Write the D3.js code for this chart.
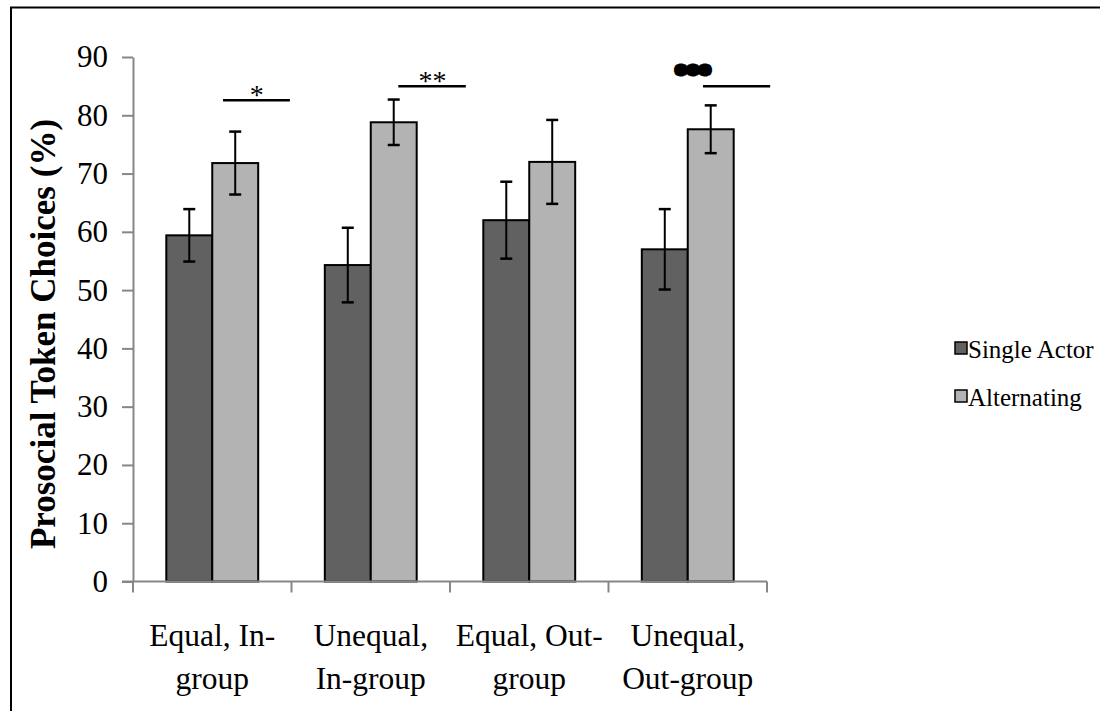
<!DOCTYPE html>
<html>
<head>
<meta charset="utf-8">
<script src="https://cdn.jsdelivr.net/npm/d3@7"></script>
<style>
  html, body { margin: 0; padding: 0; background: #fff; }
  svg { display: block; }
  text { font-family: "Liberation Serif", "Times New Roman", serif; fill: #000; }
</style>
</head>
<body>
<svg id="chart" width="1100" height="711"></svg>
<script>
// Conditions (two-line labels) and series
const categories = ["Equal, In-group", "Unequal, In-group", "Equal, Out-group", "Unequal, Out-group"];
const categoryLines = [["Equal, In-", "group"], ["Unequal,", "In-group"], ["Equal, Out-", "group"], ["Unequal,", "Out-group"]];
const seriesNames = ["Single Actor", "Alternating"];
const singleActor = [59.4, 54.3, 62.0, 57.0];
const alternating = [71.8, 78.8, 72.0, 77.6];
const singleActorErr = [4.5, 6.4, 6.6, 6.9];
const alternatingErr = [5.4, 3.9, 7.2, 4.1];
const yTicks = [0, 10, 20, 30, 40, 50, 60, 70, 80, 90];

// Significance brackets: category index, start/end as fraction of the band, height in %, label
const sigCategory = [0, 1, 3];
const sigStart = [0.568, 0.674, 0.596];
const sigEnd = [0.99, 1.10, 1.02];
const sigLevel = [82.6, 85.0, 85.0];
const sigLabel = ["*", "**", "***"];
const sigLabelPos = [0.78, 0.89, 0.536];

const colors = ["#616161", "#b3b3b3"];

const svg = d3.select("#chart");

// Outer frame
svg.append("rect")
  .attr("x", 11).attr("y", 7.5)
  .attr("width", 1200).attr("height", 800)
  .attr("fill", "none").attr("stroke", "#000").attr("stroke-width", 2);

const plot = { left: 133, right: 767, top: 57, bottom: 581.5 };

const x0 = d3.scaleBand().domain(categories).range([plot.left, plot.right]).padding(0);
const x1 = d3.scaleBand().domain(seriesNames).range([0, x0.bandwidth()])
  .paddingInner(0).paddingOuter(0.725);
const y = d3.scaleLinear().domain([0, 90]).range([plot.bottom, plot.top]);

const axisColor = "#878787";

// Y axis
const yAxis = svg.append("g").attr("transform", `translate(${plot.left},0)`)
  .call(d3.axisLeft(y).tickValues(yTicks).tickSize(11).tickSizeOuter(0).tickPadding(14));
yAxis.select(".domain").attr("stroke", axisColor).attr("stroke-width", 2);
yAxis.selectAll(".tick line").attr("stroke", axisColor).attr("stroke-width", 2);
yAxis.selectAll(".tick text")
  .style("font-family", "'Liberation Serif', serif").style("font-size", "31px").attr("fill", "#000");

// Y axis title
svg.append("text")
  .attr("transform", `translate(55,334) rotate(-90)`)
  .attr("text-anchor", "middle")
  .style("font-size", "35px").style("font-weight", "bold")
  .text("Prosocial Token Choices (%)");

// Bars
const rows = categories.map((c, i) => ({
  cat: c,
  vals: [
    { s: seriesNames[0], v: singleActor[i], e: singleActorErr[i] },
    { s: seriesNames[1], v: alternating[i], e: alternatingErr[i] }
  ]
}));

const groups = svg.append("g").selectAll("g").data(rows).join("g")
  .attr("transform", d => `translate(${x0(d.cat)},0)`);

groups.selectAll("rect").data(d => d.vals).join("rect")
  .attr("x", d => x1(d.s))
  .attr("y", d => y(d.v))
  .attr("width", x1.bandwidth())
  .attr("height", d => y(0) - y(d.v))
  .attr("fill", (d, i) => colors[i])
  .attr("stroke", "#000").attr("stroke-width", 2);

// X axis (drawn over bar bottoms)
const xAxis = svg.append("g").attr("transform", `translate(0,${plot.bottom})`);
xAxis.append("line")
  .attr("x1", plot.left - 11).attr("x2", plot.right)
  .attr("y1", 0).attr("y2", 0)
  .attr("stroke", axisColor).attr("stroke-width", 2);
const xTickPos = categories.map(c => x0(c)).concat([x0(categories[categories.length - 1]) + x0.bandwidth()]);
xAxis.selectAll("line.tk").data(xTickPos).join("line").attr("class", "tk")
  .attr("x1", d => d).attr("x2", d => d)
  .attr("y1", 0).attr("y2", 11)
  .attr("stroke", axisColor).attr("stroke-width", 2);

// Category labels
const lbl = svg.append("g").selectAll("text").data(categories).join("text")
  .attr("text-anchor", "middle")
  .attr("x", d => x0(d) + x0.bandwidth() / 2)
  .attr("y", 646)
  .style("font-size", "31.5px");
lbl.selectAll("tspan").data((d, i) => categoryLines[i]).join("tspan")
  .attr("x", function () { return d3.select(this.parentNode).attr("x"); })
  .attr("dy", (d, i) => i === 0 ? 0 : 43)
  .text(d => d);

// Error bars
const eb = groups.selectAll("g.err").data(d => d.vals).join("g").attr("class", "err");
const cap = 6;
eb.append("line")
  .attr("x1", d => x1(d.s) + x1.bandwidth() / 2).attr("x2", d => x1(d.s) + x1.bandwidth() / 2)
  .attr("y1", d => y(d.v + d.e)).attr("y2", d => y(d.v - d.e))
  .attr("stroke", "#000").attr("stroke-width", 2);
eb.selectAll("line.cap").data(d => [{ d, v: d.v + d.e }, { d, v: d.v - d.e }]).join("line")
  .attr("class", "cap")
  .attr("x1", o => x1(o.d.s) + x1.bandwidth() / 2 - cap).attr("x2", o => x1(o.d.s) + x1.bandwidth() / 2 + cap)
  .attr("y1", o => y(o.v)).attr("y2", o => y(o.v))
  .attr("stroke", "#000").attr("stroke-width", 2.5);

// Significance markers
const sig = svg.append("g").selectAll("g").data(sigCategory).join("g");
sig.append("line")
  .attr("x1", (c, i) => x0(categories[c]) + sigStart[i] * x0.bandwidth())
  .attr("x2", (c, i) => x0(categories[c]) + sigEnd[i] * x0.bandwidth())
  .attr("y1", (c, i) => y(sigLevel[i])).attr("y2", (c, i) => y(sigLevel[i]))
  .attr("stroke", "#000").attr("stroke-width", 2.5);
sig.filter((c, i) => i < 2).append("text")
  .attr("text-anchor", "middle")
  .attr("x", (c, i) => x0(categories[c]) + sigLabelPos[i] * x0.bandwidth())
  .attr("y", (c, i) => y(sigLevel[i]) + 4)
  .style("font-size", "28px")
  .text((c, i) => sigLabel[i]);
sig.filter((c, i) => i === 2).append("text")
  .attr("text-anchor", "middle")
  .attr("x", (c, i) => x0(categories[c]) + sigLabelPos[2] * x0.bandwidth())
  .attr("y", (c, i) => y(sigLevel[2]) - 6)
  .style("font-size", "22px").style("font-weight", "bold")
  .attr("stroke", "#000").attr("stroke-width", 5).attr("stroke-linejoin", "round")
  .attr("letter-spacing", "1px")
  .text(sigLabel[2]);

// Legend
const legend = svg.append("g").selectAll("g").data(seriesNames).join("g")
  .attr("transform", (d, i) => `translate(955,${342 + i * 48})`);
legend.append("rect")
  .attr("x", 0).attr("y", 0).attr("width", 12).attr("height", 12)
  .attr("fill", (d, i) => colors[i]).attr("stroke", "#000").attr("stroke-width", 1.5);
legend.append("text")
  .attr("x", 13).attr("y", 16)
  .style("font-size", "25px")
  .text(d => d);
</script>
</body>
</html>
